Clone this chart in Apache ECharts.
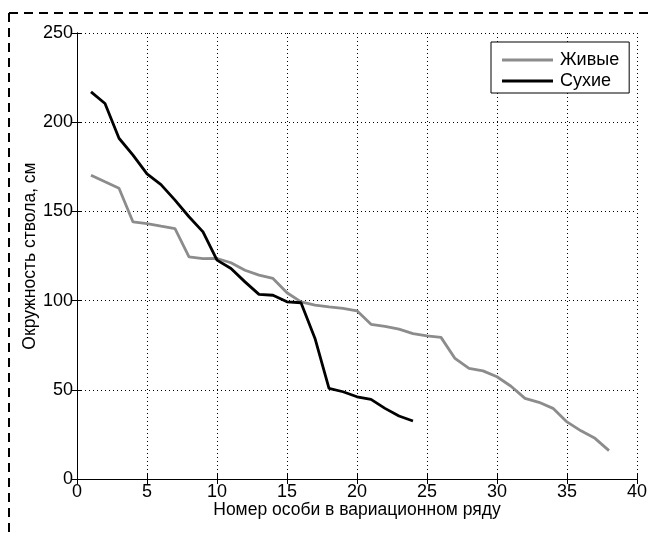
<!DOCTYPE html>
<html><head><meta charset="utf-8">
<script src="https://cdn.jsdelivr.net/npm/echarts@6/dist/echarts.min.js"></script>
<style>html,body{margin:0;padding:0;background:#fff}#c{width:650px;height:534px}</style>
</head><body><div id="c"></div>
<script>
var seriesNames = ['Живые', 'Сухие'];
var livingIdx = [1,2,3,4,5,6,7,8,9,10,11,12,13,14,15,16,17,18,19,20,21,22,23,24,25,26,27,28,29,30,31,32,33,34,35,36,37,38];
var living = [170.3,166.6,163,144.1,143.2,141.7,140.4,124.5,123.5,123.6,121.2,117,114.3,112.4,104.4,99.3,97.5,96.5,95.6,94.3,86.7,85.5,84,81.5,80.2,79.4,67.6,62,60.6,57.3,52,45.2,43,39.6,32,27,22.8,15.9];
var deadIdx = [1,2,3,4,5,6,7,8,9,10,11,12,13,14,15,16,17,18,19,20,21,22,23,24];
var dead = [217,210.5,191,181.5,171,165,156.3,147,138.5,122.7,118,110.5,103.5,103,99.3,98.8,78.8,50.8,48.9,46.1,44.6,39.6,35.3,32.5];
var xTicks = [0,5,10,15,20,25,30,35,40];
var yTicks = [0,50,100,150,200,250];
var xTitle = 'Номер особи в вариационном ряду';
var yTitle = 'Окружность ствола, см';

function pairs(xs, ys){ return xs.map(function(x,i){ return [x, ys[i]]; }); }
var font = 'Liberation Sans, Arial, sans-serif';
var chart = echarts.init(document.getElementById('c'), null, {renderer:'canvas'});
var gridLine = {show:true, lineStyle:{color:'#000', width:1, type:[1,3]}};
chart.setOption({
  animation:false,
  backgroundColor:'#fff',
  textStyle:{fontFamily:font},
  grid:{left:77, right:7, top:33, bottom:55, containLabel:false},
  xAxis:[{
    type:'value', min:xTicks[0], max:xTicks[xTicks.length-1], interval:5,
    name:xTitle, nameLocation:'middle', nameGap:22, nameMoveOverlap:false,
    nameTextStyle:{color:'#000', fontSize:17.5, fontFamily:font, verticalAlign:'top'},
    axisLine:{show:true, lineStyle:{color:'#000', width:1}},
    axisTick:{show:true, inside:true, length:5, lineStyle:{color:'#000'}},
    axisLabel:{color:'#000', fontSize:18, fontFamily:font, margin:4, showMaxLabel:true, showMinLabel:true},
    splitLine:gridLine
  },{
    type:'value', position:'top', min:xTicks[0], max:xTicks[xTicks.length-1], interval:5,
    axisLine:{show:true, lineStyle:{color:'#000', width:1}},
    axisTick:{show:true, inside:true, length:5, lineStyle:{color:'#000'}},
    axisLabel:{show:false}, splitLine:{show:false}
  }],
  yAxis:[{
    type:'value', min:yTicks[0], max:yTicks[yTicks.length-1], interval:50,
    name:yTitle, nameLocation:'middle', nameGap:38, nameRotate:90, nameMoveOverlap:false,
    nameTextStyle:{color:'#000', fontSize:17.5, fontFamily:font},
    axisLine:{show:true, lineStyle:{color:'#000', width:1}},
    axisTick:{show:true, inside:true, length:5, lineStyle:{color:'#000'}},
    axisLabel:{color:'#000', fontSize:18, fontFamily:font, margin:4},
    splitLine:gridLine
  },{
    type:'value', position:'right', min:yTicks[0], max:yTicks[yTicks.length-1], interval:50,
    axisLine:{show:true, lineStyle:{color:'#000', width:1}},
    axisTick:{show:true, inside:true, length:5, lineStyle:{color:'#000'}},
    axisLabel:{show:false}, splitLine:{show:false}
  }],
  legend:{
    orient:'vertical', left:491, top:42,
    backgroundColor:'#fff', borderColor:'#000', borderWidth:1,
    padding:[9,10,3,11], itemWidth:51, itemHeight:3, itemGap:3,
    icon:'rect',
    textStyle:{color:'#000', fontSize:18, fontFamily:font, padding:[0,0,0,2]},
    data:seriesNames
  },
  series:[{
    name:seriesNames[0], type:'line', symbol:'none', xAxisIndex:0, yAxisIndex:0,
    data:pairs(livingIdx, living),
    lineStyle:{color:'#8c8c8c', width:2.8}, itemStyle:{color:'#8c8c8c'}
  },{
    name:seriesNames[1], type:'line', symbol:'none', xAxisIndex:0, yAxisIndex:0,
    data:pairs(deadIdx, dead),
    lineStyle:{color:'#000', width:2.8}, itemStyle:{color:'#000'}
  }],
  graphic:[
    {type:'line', shape:{x1:9, y1:13, x2:650, y2:13}, style:{stroke:'#000', lineWidth:2, lineDash:[9,6]}},
    {type:'line', shape:{x1:9, y1:13, x2:9, y2:534}, style:{stroke:'#000', lineWidth:2, lineDash:[9,6]}}
  ]
});
</script></body></html>
